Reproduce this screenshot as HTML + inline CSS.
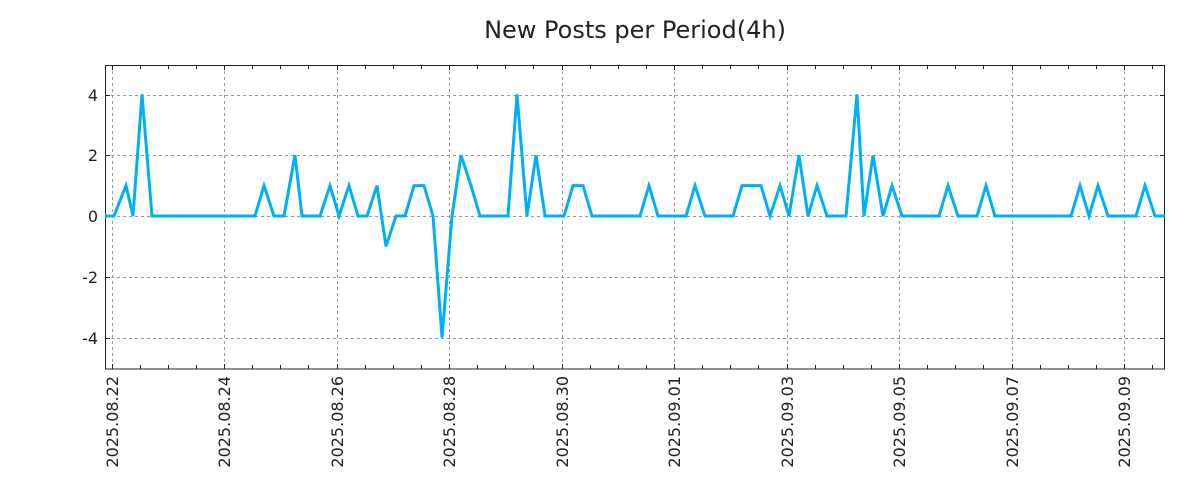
<!DOCTYPE html>
<html><head><meta charset="utf-8"><style>body{margin:0;background:#fff}svg{display:block}</style></head><body>
<svg width="1200" height="500" xmlns="http://www.w3.org/2000/svg" font-family="DejaVu Sans, Liberation Sans, sans-serif">
<rect width="1200" height="500" fill="#fff"/>
<text x="635" y="38" font-size="24" text-anchor="middle" fill="#222">New Posts per Period(4h)</text>
<g stroke="#999" stroke-width="1" stroke-dasharray="3,3">
<line x1="105" x2="1165" y1="95.5" y2="95.5"/><line x1="105" x2="1165" y1="155.5" y2="155.5"/><line x1="105" x2="1165" y1="216.5" y2="216.5"/><line x1="105" x2="1165" y1="277.5" y2="277.5"/><line x1="105" x2="1165" y1="338.5" y2="338.5"/>
<line x1="112.5" x2="112.5" y1="65" y2="369"/><line x1="224.5" x2="224.5" y1="65" y2="369"/><line x1="337.5" x2="337.5" y1="65" y2="369"/><line x1="449.5" x2="449.5" y1="65" y2="369"/><line x1="562.5" x2="562.5" y1="65" y2="369"/><line x1="674.5" x2="674.5" y1="65" y2="369"/><line x1="787.5" x2="787.5" y1="65" y2="369"/><line x1="899.5" x2="899.5" y1="65" y2="369"/><line x1="1012.5" x2="1012.5" y1="65" y2="369"/><line x1="1124.5" x2="1124.5" y1="65" y2="369"/>
</g>
<g stroke="#222" stroke-width="1">
<path d="M112.5 65v5M140.5 65v4M168.5 65v4M196.5 65v4M224.5 65v5M252.5 65v4M280.5 65v4M308.5 65v4M337.5 65v5M365.5 65v4M393.5 65v4M421.5 65v4M449.5 65v5M477.5 65v4M505.5 65v4M533.5 65v4M562.5 65v5M590.5 65v4M618.5 65v4M646.5 65v4M674.5 65v5M702.5 65v4M730.5 65v4M758.5 65v4M787.5 65v5M815.5 65v4M843.5 65v4M871.5 65v4M899.5 65v5M927.5 65v4M955.5 65v4M983.5 65v4M1012.5 65v5M1040.5 65v4M1068.5 65v4M1096.5 65v4M1124.5 65v5M1152.5 65v4"/>
<path d="M112.5 369v-5M140.5 369v-4M168.5 369v-4M196.5 369v-4M224.5 369v-5M252.5 369v-4M280.5 369v-4M308.5 369v-4M337.5 369v-5M365.5 369v-4M393.5 369v-4M421.5 369v-4M449.5 369v-5M477.5 369v-4M505.5 369v-4M533.5 369v-4M562.5 369v-5M590.5 369v-4M618.5 369v-4M646.5 369v-4M674.5 369v-5M702.5 369v-4M730.5 369v-4M758.5 369v-4M787.5 369v-5M815.5 369v-4M843.5 369v-4M871.5 369v-4M899.5 369v-5M927.5 369v-4M955.5 369v-4M983.5 369v-4M1012.5 369v-5M1040.5 369v-4M1068.5 369v-4M1096.5 369v-4M1124.5 369v-5M1152.5 369v-4"/>
<path d="M105 95.5h5M105 155.5h5M105 216.5h5M105 277.5h5M105 338.5h5M1165 95.5h-5M1165 155.5h-5M1165 216.5h-5M1165 277.5h-5M1165 338.5h-5"/>
<rect x="105.5" y="65.5" width="1059" height="303.5" fill="none"/>
</g>
<g font-size="16" fill="#222" text-anchor="end">
<text x="98" y="101">4</text><text x="98" y="161">2</text><text x="98" y="222">0</text><text x="98" y="283">-2</text><text x="98" y="344">-4</text>
</g>
<g font-size="16" fill="#222" text-anchor="end">
<text transform="translate(118,376) rotate(-90)">2025.08.22</text>
<text transform="translate(230,376) rotate(-90)">2025.08.24</text>
<text transform="translate(343,376) rotate(-90)">2025.08.26</text>
<text transform="translate(455,376) rotate(-90)">2025.08.28</text>
<text transform="translate(568,376) rotate(-90)">2025.08.30</text>
<text transform="translate(680,376) rotate(-90)">2025.09.01</text>
<text transform="translate(793,376) rotate(-90)">2025.09.03</text>
<text transform="translate(905,376) rotate(-90)">2025.09.05</text>
<text transform="translate(1018,376) rotate(-90)">2025.09.07</text>
<text transform="translate(1130,376) rotate(-90)">2025.09.09</text>
</g>
<polyline fill="none" stroke="#00b0f6" stroke-width="3" stroke-linejoin="miter" points="105,216 114,216 126,185.6 133,216 142,94.4 152,216 255,216 264,185.6 274,216 284,216 295,155.2 302,216 320,216 330,185.6 339,216 349,185.6 358,216 367,216 377,185.6 386,246.4 396,216 405,216 414,185.6 424,185.6 433,216 442,337.6 452,216 461,155.2 471,185.6 480,216 508,216 517,94.4 527,216 536,155.2 545,216 564,216 573,185.6 583,185.6 592,216 640,216 649,185.6 658,216 686,216 695,185.6 705,216 733,216 742,185.6 761,185.6 770,216 780,185.6 789,216 799,155.2 808,216 817,185.6 827,216 846,216 857,94.4 864,216 873,155.2 883,216 892,185.6 902,216 939,216 948,185.6 958,216 977,216 986,185.6 995,216 1071,216 1080,185.6 1089,216 1098,185.6 1108,216 1136,216 1145,185.6 1155,216 1165,216"/>
</svg>
</body></html>
